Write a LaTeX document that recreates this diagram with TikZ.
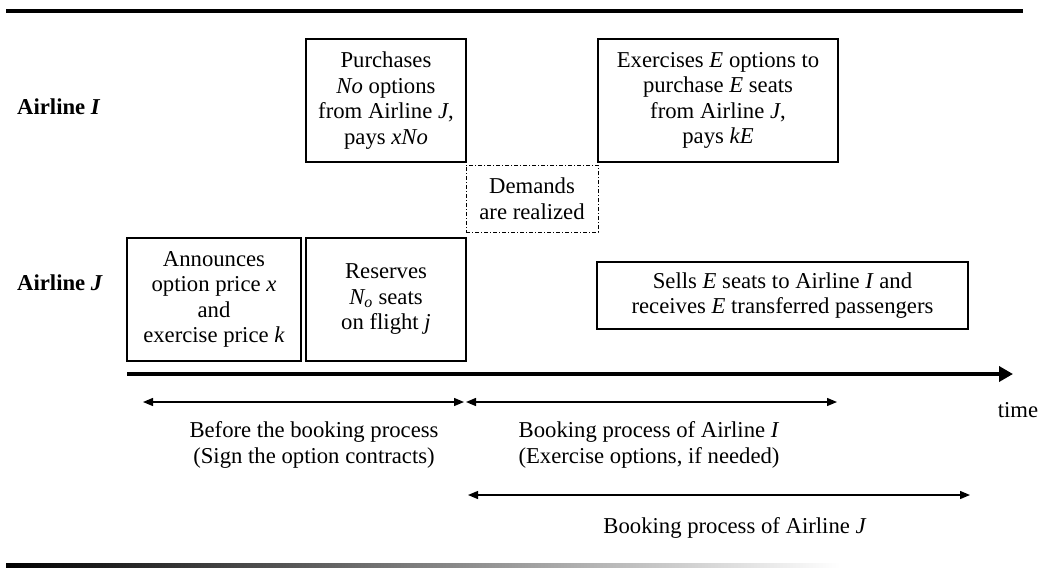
\documentclass[tikz,border=0pt]{standalone}
\usepackage{fontspec}
\setmainfont{Liberation Serif}
\usetikzlibrary{arrows.meta}

\tikzset{
  box/.style={draw, line width=1.2pt, align=center, inner sep=0pt},
  dashbox/.style={box, line width=0.9pt, dash pattern=on 4pt off 2pt on 1pt off 2pt},
  span/.style={line width=1.3pt, {Triangle[length=10pt,width=8pt]}-{Triangle[length=10pt,width=8pt]}},
  label/.style={inner sep=0pt, align=center},
}

\begin{document}
\begin{tikzpicture}[x=1pt, y=-1pt, font=\fontsize{22.7}{25.5}\selectfont]
  \useasboundingbox (0,0) rectangle (1043,568);

  % rules at top and bottom
  \draw[line width=4pt] (6,11) -- (1023,11);
  \shade[left color=black, right color=white] (6,563.5) rectangle (840,567);

  % row labels
  \node[label, anchor=west] (airI) at (17,107) {\textbf{Airline \textit{I}}};
  \node[label, anchor=west] (airJ) at (17,283) {\textbf{Airline \textit{J}}};

  % airline I
  \node[box, minimum width=160pt, minimum height=123pt] (purch) at (386,100.5)
    {Purchases\\ \textit{No} options\\ from Airline \textit{J},\\ pays \textit{xNo}};
  \node[box, minimum width=240pt, minimum height=123pt] (exer) at (718,100.5)
    {Exercises \textit{E} options to\\ purchase \textit{E} seats\\ from Airline \textit{J},\\ pays \textit{kE}};
  \node[dashbox, minimum width=132pt, minimum height=67pt] (demand) at (532,198.5)
    {Demands\\ are realized};

  % airline J
  \node[box, minimum width=174pt, minimum height=123pt] (announce) at (214,299.5)
    {Announces\\ option price \textit{x}\\ and\\ exercise price \textit{k}};
  \node[box, minimum width=160pt, minimum height=123pt] (reserve) at (386,299.5)
    {Reserves\\ \textit{N\textsubscript{o}} seats\\ on flight \textit{j}};
  \node[box, minimum width=371pt, minimum height=67pt] (sells) at (782.5,295.5)
    {Sells \textit{E} seats to Airline \textit{I} and\\ receives \textit{E} transferred passengers};

  % time axis
  \coordinate (t0) at (127,374);
  \coordinate (t1) at (1013,374);
  \draw[line width=4pt, -{Triangle[length=14pt,width=15pt]}] (t0) -- (t1);
  \node[label] (time) at (1018,410) {time};

  % periods
  \coordinate (p0) at (143,402);
  \coordinate (p1) at (464,402);
  \coordinate (q0) at (466,402);
  \coordinate (q1) at (837,402);
  \coordinate (r0) at (468,495);
  \coordinate (r1) at (970,495);
  \draw[span] (p0) -- (p1);
  \draw[span] (q0) -- (q1);
  \draw[span] (r0) -- (r1);

  \node[label] (before) at (314,445) {Before the booking process\\ (Sign the option contracts)};
  \node[label] (bookI) at (649,445) {Booking process of Airline \textit{I}\\ (Exercise options, if needed)};
  \node[label] (bookJ) at (735,528) {Booking process of Airline \textit{J}};
\end{tikzpicture}
\end{document}
